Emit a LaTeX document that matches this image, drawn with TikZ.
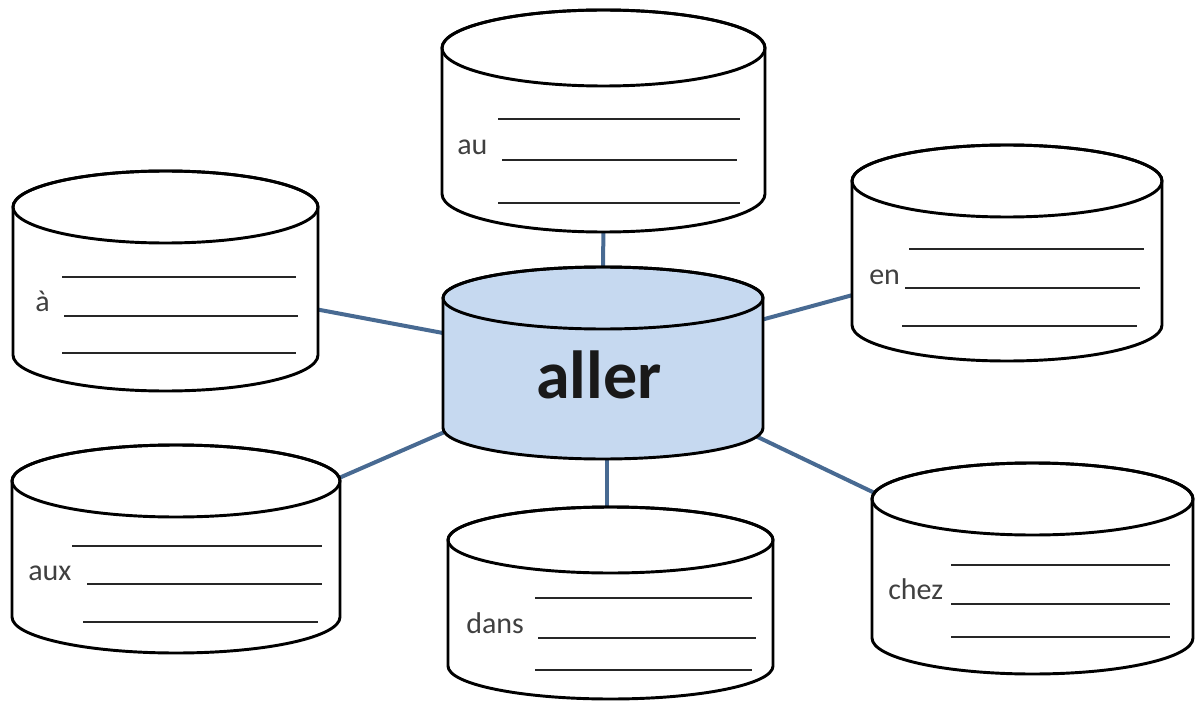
\documentclass[tikz,border=0pt]{standalone}
\usepackage{fontspec}
\setmainfont{Carlito}
\usetikzlibrary{positioning}
\definecolor{spokeblue}{RGB}{72,106,146}
\definecolor{hubblue}{RGB}{198,217,240}
\tikzset{
    drum/.style = {
        draw = black,
        line width = 2.2pt,
        line join = round,
        },
    spoke/.style = {
        draw = spokeblue,
        line width = 3pt,
        },
    blank/.style = {
        draw = black!85,
        line width = 1.4pt,
        },
    word/.style = {
        text = black!75,
        inner sep = 0pt,
        anchor = base west,
        font = \fontsize{22.5}{26}\selectfont,
        },
    hub word/.style = {
        text = black!90,
        inner sep = 0pt,
        anchor = base,
        font = \fontsize{51}{56}\selectfont\bfseries,
        },
}
% \drum{name}{cx}{top y}{bottom y}{x radius}{y radius}{fill}
\newcommand\drum[7]{%
    \path[drum, fill=#7] (#2-#5,#3) -- (#2-#5,#4)
        arc[start angle=180, end angle=0, x radius=#5, y radius=#6]
        -- (#2+#5,#3)
        arc[start angle=0, end angle=-180, x radius=#5, y radius=#6] -- cycle;
    \draw[drum] (#2,#3) ellipse[x radius=#5, y radius=#6];
    \node[inner sep=0pt] (#1) at (#2,{(#3+#4)/2}) {};
}

\begin{document}
\begin{tikzpicture}[x=0.75pt, y=-0.75pt]
    \useasboundingbox (0,0) rectangle (1195,702);

    % centres first, so the spokes can go behind
    \coordinate (hub c) at (603,363);
    \coordinate (au c) at (603.5,121);
    \coordinate (a c) at (165.5,281);
    \coordinate (en c) at (1007,253);
    \coordinate (aux c) at (176,549);
    \coordinate (dans c) at (607,603);
    \coordinate (chez c) at (1032.5,568.5);

    \draw[spoke] (hub c) -- (au c);
    \draw[spoke] (hub c) -- (a c);
    \draw[spoke] (hub c) -- (en c);
    \draw[spoke] (hub c) -- (aux c);
    \draw[spoke] (dans c |- hub c) -- (dans c);
    \draw[spoke] (hub c) -- (chez c);

    \drum{au}{603.5}{48}{194}{161.5}{38}{white}
    \drum{a}{165.5}{207}{355}{152.5}{36}{white}
    \drum{en}{1007}{181}{325}{155}{36}{white}
    \drum{hub}{603}{298}{428}{160}{31}{hubblue}
    \drum{aux}{176}{481}{617}{164}{36}{white}
    \drum{dans}{610.5}{540}{666}{162.5}{33}{white}
    \drum{chez}{1032.5}{499}{638}{160.5}{36}{white}

    \node[hub word] (aller) at (599,398) {aller};

    \node[word] (au word) at (457,155) {au};
    \node[word] (a word) at (35,311) {à};
    \node[word] (en word) at (869,284) {en};
    \node[word] (aux word) at (28,580) {aux};
    \node[word] (dans word) at (466,633) {dans};
    \node[word] (chez word) at (888,599) {chez};

    % lines to fill in
    \foreach \l/\r/\y in {498/740/119, 502/737/160, 498/740/203}
        \draw[blank] (\l,\y) -- (\r,\y);
    \foreach \l/\r/\y in {62/296/277, 64/298/316, 62/296/353}
        \draw[blank] (\l,\y) -- (\r,\y);
    \foreach \l/\r/\y in {909/1144/249, 905/1140/288, 902/1137/326}
        \draw[blank] (\l,\y) -- (\r,\y);
    \foreach \l/\r/\y in {72/322/546, 87/322/584, 83/318/622}
        \draw[blank] (\l,\y) -- (\r,\y);
    \foreach \l/\r/\y in {535/752/598, 538/756/638, 535/752/670}
        \draw[blank] (\l,\y) -- (\r,\y);
    \foreach \l/\r/\y in {951/1170/565, 951/1170/604, 951/1170/637}
        \draw[blank] (\l,\y) -- (\r,\y);
\end{tikzpicture}
\end{document}
